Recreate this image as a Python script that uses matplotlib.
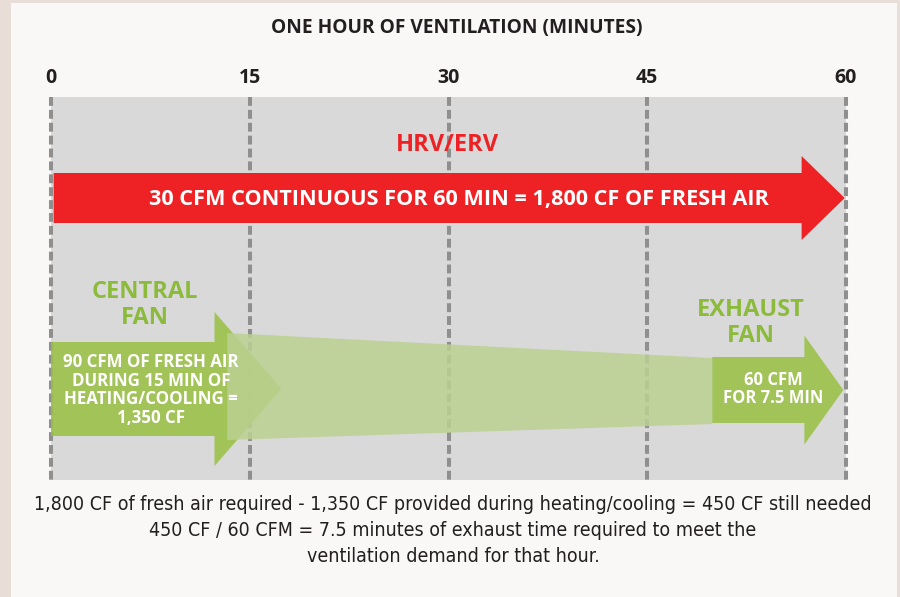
import matplotlib.pyplot as plt
from matplotlib.patches import FancyArrow, Polygon, Rectangle

# minutes along the hour
minutes = [0, 15, 30, 45, 60]

# arrow extents in minutes (tail, tip) as drawn in the picture
hrv_span = (0.2, 59.9)
central_span = (0.0, 17.4)
exhaust_span = (49.9, 59.8)
carry_span = (13.3, 49.9)  # faded band between the two fans

title = "ONE HOUR OF VENTILATION (MINUTES)"
hrv_label = "HRV/ERV"
hrv_text = "30 CFM CONTINUOUS FOR 60 MIN = 1,800 CF OF FRESH AIR"
central_label = "CENTRAL\nFAN"
central_text = "90 CFM OF FRESH AIR\nDURING 15 MIN OF\nHEATING/COOLING =\n1,350 CF"
exhaust_label = "EXHAUST\nFAN"
exhaust_text = "60 CFM\nFOR 7.5 MIN"
footer = [
    "1,800 CF of fresh air required - 1,350 CF provided during heating/cooling = 450 CF still needed",
    "450 CF / 60 CFM = 7.5 minutes of exhaust time required to meet the",
    "ventilation demand for that hour.",
]

RED = "#ee2225"
GREEN = "#99c042"
GREEN_TXT = "#8cbb3c"
DARK = "#231f20"
BOLD = dict(family=["Open Sans", "DejaVu Sans"], fontweight="bold", fontstretch="normal")

W, H = 900, 597
fig = plt.figure(figsize=(9, 5.97), dpi=100, facecolor="#e8ded7")
# off-white panel
fig.patches.append(Rectangle((11 / W, 0), 886 / W, 594 / H, transform=fig.transFigure,
                             facecolor="#f9f8f7", edgecolor="none", zorder=-5))

# axes use pixel rows for y so the layout is easy to read
ax = fig.add_axes([51 / W, (H - 480) / H, 795 / W, 383 / H])
ax.set_zorder(1)
ax.set_xlim(0, 60)
ax.set_ylim(480, 97)
ax.set_facecolor("#d9d9d9")
for s in ax.spines.values():
    s.set_visible(False)
ax.set_xticks([])
ax.set_yticks([])

for m in minutes:
    ax.plot([m, m], [97, 480], color="#8f8f8f", lw=2.9, ls=(0, (2.2, 1.0)),
            zorder=1, clip_on=False, solid_capstyle="butt", dash_capstyle="butt")
    ax.text(m, 78, str(m), ha="center", va="center", fontsize=14, color=DARK,
            clip_on=False, **BOLD)


def arrow(span, yc, body, head, head_len, color, alpha, z):
    x0, x1 = span
    ax.add_patch(FancyArrow(x0, yc, x1 - x0, 0, width=body, head_width=head,
                            head_length=head_len, length_includes_head=True,
                            facecolor=color, edgecolor="none", alpha=alpha, zorder=z))


# green arrows and the fading band between them
arrow(central_span, 389, 94, 154, 5.06, GREEN, 0.85, 2)
arrow(exhaust_span, 390, 66, 109, 2.94, GREEN, 0.85, 2)
ax.add_patch(Polygon([(carry_span[0], 333), (carry_span[1], 358),
                      (carry_span[1], 424), (carry_span[0], 440)],
                     closed=True, facecolor="#bbd192", edgecolor="none",
                     alpha=0.85, zorder=3))

# red HRV/ERV arrow
arrow(hrv_span, 198, 50, 84, 3.25, RED, 1.0, 4)

ax.text(29.9, 145, hrv_label, ha="center", va="center", fontsize=17, color=RED, zorder=5, **BOLD)
ax.text(30.8, 199, hrv_text, ha="center", va="center", fontsize=15.6, color="white", zorder=5, **BOLD)
ax.text(7.06, 305, central_label, ha="center", va="center", fontsize=17, color=GREEN_TXT,
        linespacing=1.12, zorder=5, **BOLD)
ax.text(7.55, 390, central_text, ha="center", va="center", fontsize=12.2, color="white",
        linespacing=1.03, zorder=5, **BOLD)
ax.text(52.8, 323, exhaust_label, ha="center", va="center", fontsize=17, color=GREEN_TXT,
        linespacing=1.14, zorder=5, **BOLD)
ax.text(54.5, 389.5, exhaust_text, ha="center", va="center", fontsize=12, color="white",
        linespacing=1.0, zorder=5, **BOLD)

fig.text(457 / W, 1 - 28 / H, title, ha="center", va="center", fontsize=13.8, color=DARK, **BOLD)

for i, line in enumerate(footer):
    fig.text(453 / W, 1 - (505 + 25.5 * i) / H, line, ha="center", va="center",
             fontsize=14, color=DARK, family=["DejaVu Sans"], fontstretch="condensed")

fig.savefig("out.png", dpi=100, facecolor=fig.get_facecolor())
